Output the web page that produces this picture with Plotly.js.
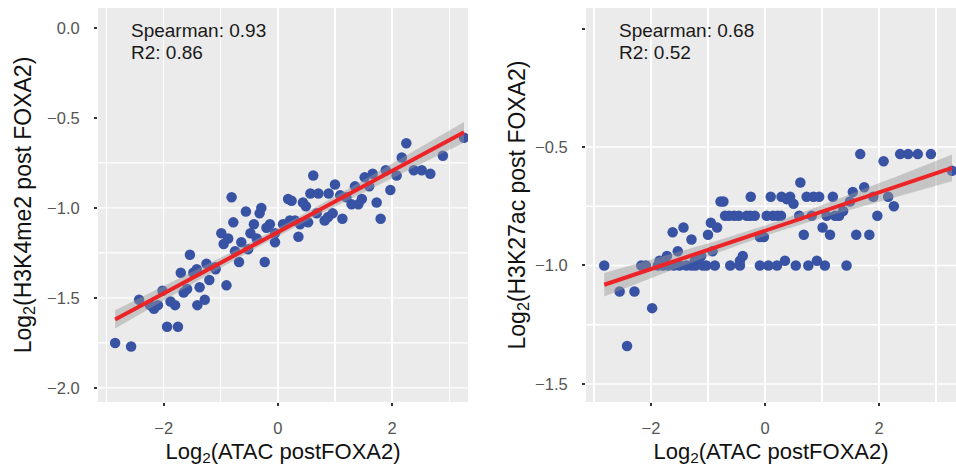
<!DOCTYPE html>
<html>
<head>
<meta charset="utf-8">
<script src="https://cdn.plot.ly/plotly-3.0.1.min.js"></script>
<style>html,body{margin:0;padding:0;background:#fff;}#chart{width:956px;height:472px;}</style>
</head>
<body>
<div id="chart"></div>
<script>
// ---- Data ----
const leftX = [-2.85,-2.57,-2.43,-2.24,-2.17,-2.10,-2.02,-1.94,-1.75,-1.88,
  -1.80,-1.70,-1.65,-1.59,-1.54,-1.48,-1.41,-1.37,-1.28,-1.20,
  -1.42,-1.25,-1.10,-1.09,-0.90,-0.99,-0.87,-0.95,-0.78,-0.75,
  -0.68,-0.64,-0.52,-0.48,-0.42,-0.37,-0.23,-0.20,-0.14,-0.05,
  -0.05,-0.81,-0.56,-0.29,-0.32,0.09,0.21,0.30,0.39,0.36,
  0.53,0.68,0.82,0.88,0.96,1.13,1.80,1.73,0.18,0.24,
  0.44,0.49,0.57,0.71,0.89,1.09,1.20,1.47,1.29,1.41,
  0.62,1.00,1.35,1.60,1.52,1.66,1.97,1.89,2.08,2.17,
  2.25,2.38,2.52,2.67,2.89,3.26];
const leftY = [-1.75,-1.77,-1.51,-1.54,-1.56,-1.54,-1.46,-1.66,-1.66,-1.52,
  -1.54,-1.36,-1.47,-1.45,-1.26,-1.36,-1.54,-1.44,-1.51,-1.40,
  -1.34,-1.31,-1.33,-1.34,-1.43,-1.14,-1.17,-1.20,-1.08,-1.24,
  -1.30,-1.19,-1.23,-1.14,-1.09,-1.17,-1.30,-1.11,-1.09,-1.19,
  -1.14,-0.94,-1.02,-1.00,-1.03,-1.09,-1.07,-1.07,-1.09,-1.16,
  -1.08,-1.03,-1.07,-1.05,-1.03,-1.06,-1.06,-0.97,-0.95,-0.96,
  -0.97,-0.99,-0.92,-0.92,-0.92,-0.93,-0.94,-0.95,-0.98,-0.98,
  -0.82,-0.87,-0.88,-0.88,-0.83,-0.81,-0.90,-0.79,-0.82,-0.72,
  -0.64,-0.79,-0.79,-0.81,-0.71,-0.61];

const rightX = [-2.82,-2.17,-2.09,-1.88,-1.79,-1.70,-1.60,-1.50,-1.38,-1.29,-1.22,-1.09,-1.03,-0.88,-0.61,-0.44,-0.09,0.06,0.21,0.54,0.76,1.05,1.43,
  -1.85,-1.72,-1.53,-1.23,-1.12,-0.92,-0.44,-0.39,0.35,0.91,
  -2.55,-2.29,-1.98,-2.42,
  -1.62,-1.43,-1.29,-1.00,-0.95,-0.84,-0.09,-0.02,0.68,1.01,1.14,1.60,1.83,
  -0.70,-0.63,-0.54,-0.46,-0.32,-0.26,-0.18,0.03,0.14,0.22,0.28,0.60,0.82,1.08,1.23,1.30,1.97,
  1.37,1.49,
  -0.78,-0.73,-0.25,0.10,0.29,0.44,0.38,0.50,0.73,0.85,0.95,1.19,1.90,2.16,2.26,
  0.62,1.54,1.74,1.67,2.37,2.51,2.68,2.91,2.08,3.28];
const rightY = [-1.00,-1.00,-1.00,-1.00,-1.00,-1.00,-1.00,-1.00,-1.00,-1.00,-1.00,-1.00,-1.00,-1.00,-1.00,-1.00,-1.00,-1.00,-1.00,-1.00,-1.00,-1.00,-1.00,
  -0.98,-0.96,-0.94,-0.98,-0.96,-0.94,-0.98,-0.96,-0.98,-0.98,
  -1.11,-1.11,-1.18,-1.34,
  -0.86,-0.84,-0.89,-0.87,-0.82,-0.84,-0.88,-0.88,-0.87,-0.84,-0.87,-0.87,-0.87,
  -0.79,-0.79,-0.79,-0.79,-0.79,-0.79,-0.79,-0.79,-0.79,-0.79,-0.79,-0.79,-0.79,-0.79,-0.79,-0.79,-0.79,
  -0.77,-0.73,
  -0.73,-0.73,-0.71,-0.71,-0.71,-0.71,-0.72,-0.74,-0.71,-0.71,-0.71,-0.71,-0.71,-0.71,-0.75,
  -0.65,-0.69,-0.67,-0.53,-0.53,-0.53,-0.53,-0.53,-0.56,-0.60];

const leftStats = ['Spearman: 0.93', 'R2: 0.86'];
const rightStats = ['Spearman: 0.68', 'R2: 0.52'];
const leftYTicks = [0, -0.5, -1, -1.5, -2];
const leftYTickText = ['0.0', '\u22120.5', '\u22121.0', '\u22121.5', '\u22122.0'];
const rightYTicks = [-0.5, -1, -1.5];
const rightYTickText = ['\u22120.5', '\u22121.0', '\u22121.5'];
const rightYExtraTick = [0];
const xTicks = [-2, 0, 2];
const leftGridY = [-2, -1.75, -1.5, -1.25, -1, -0.75];
const rightGridY = [-1.5, -1.25, -1, -0.75, -0.5];

// ---- Linear fit with 95% confidence band (like geom_smooth(method='lm')) ----
function fit(xs, ys) {
  const n = xs.length;
  const mx = xs.reduce((a,b)=>a+b,0)/n, my = ys.reduce((a,b)=>a+b,0)/n;
  let sxx=0, sxy=0;
  for (let i=0;i<n;i++){ sxx += (xs[i]-mx)**2; sxy += (xs[i]-mx)*(ys[i]-my); }
  const b = sxy/sxx, a = my - b*mx;
  let sse=0; for (let i=0;i<n;i++){ sse += (ys[i]-a-b*xs[i])**2; }
  const s = Math.sqrt(sse/(n-2)), t = 1.99;
  const lo = Math.min(...xs), hi = Math.max(...xs);
  const gx=[], gy=[], up=[], dn=[];
  for (let k=0;k<=80;k++){
    const x = lo + (hi-lo)*k/80;
    const y = a + b*x;
    const se = s*Math.sqrt(1/n + (x-mx)**2/sxx);
    gx.push(x); gy.push(y); up.push(y+t*se); dn.push(y-t*se);
  }
  return {gx, gy, up, dn};
}

const POINT = '#3953A4', RED = '#EC2327', BAND = 'rgba(150,150,150,0.45)';
function panelTraces(xs, ys, xa, ya) {
  const f = fit(xs, ys);
  return [
    {type:'scatter', mode:'markers', x:xs, y:ys, xaxis:xa, yaxis:ya,
     marker:{color:POINT, size:10.5, line:{width:0}}, hoverinfo:'skip'},
    {type:'scatter', mode:'lines', x:f.gx.concat(f.gx.slice().reverse()),
     y:f.up.concat(f.dn.slice().reverse()), xaxis:xa, yaxis:ya,
     fill:'toself', fillcolor:BAND, line:{width:0}, hoverinfo:'skip'},
    {type:'scatter', mode:'lines', x:f.gx, y:f.gy, xaxis:xa, yaxis:ya,
     line:{color:RED, width:4}, hoverinfo:'skip'}
  ];
}

const data = panelTraces(leftX, leftY, 'x', 'y').concat(panelTraces(rightX, rightY, 'x2', 'y2'));

const FONT = '"Liberation Sans", Arial, Helvetica, sans-serif';
const H = 472;
const yDom = [1 - 402/H, 1 - 8/H];
function xAxis(domain, range) {
  return {domain, range, tickmode:'array', tickvals:xTicks, ticks:'outside', ticklen:3, tickwidth:2,
    tickcolor:'#333', tickfont:{size:16.5, color:'#555', family:FONT}, ticklabelstandoff:8,
    showgrid:true, gridcolor:'#FFFFFF', gridwidth:1.3, zeroline:false, showline:false,
    minor:{tick0:1, dtick:2, showgrid:true, gridcolor:'#FFFFFF', gridwidth:1.3, ticks:''},
    automargin:false, fixedrange:true,
    title:{text:'Log<sub>2</sub>(ATAC postFOXA2)', font:{size:22, color:'#111', family:FONT}, standoff:7}};
}
function yAxis(domain, range, tv, tt, title, anchor, standoff, extra) {
  const ax = {domain, range, anchor, tickmode:'array', tickvals:tv, ticktext:tt, ticks:'outside', ticklen:3, tickwidth:2,
    tickcolor:'#333', tickfont:{size:16.5, color:'#555', family:FONT}, ticklabelstandoff:11,
    showgrid:false, zeroline:false, showline:false, automargin:false, fixedrange:true,
    title:{text:title, font:{size:23, color:'#111', family:FONT}, standoff:standoff}};
  if (extra) ax.minor = {tickmode:'array', tickvals:extra, ticks:'outside', ticklen:3, tickwidth:2, tickcolor:'#333', showgrid:false};
  return ax;
}

const shapes = [];
leftGridY.forEach(v => shapes.push({type:'line', xref:'x domain', yref:'y', x0:0, x1:1, y0:v, y1:v,
  line:{color:'#FFFFFF', width:1.3}, layer:'below'}));
rightGridY.forEach(v => shapes.push({type:'line', xref:'x2 domain', yref:'y2', x0:0, x1:1, y0:v, y1:v,
  line:{color:'#FFFFFF', width:1.3}, layer:'below'}));

const annotations = [];
[[leftStats,'x domain','y domain'],[rightStats,'x2 domain','y2 domain']].forEach(([st,xr,yr]) => {
  st.forEach((txt,i) => annotations.push({text:txt, xref:xr, yref:yr, x:0.085, y:0.942 - i*0.056,
    xanchor:'left', yanchor:'middle', showarrow:false, font:{size:19, color:'#1a1a1a', family:FONT}}));
});

const layout = {
  width:956, height:472, margin:{l:0, r:0, t:0, b:0},
  paper_bgcolor:'#FFFFFF', plot_bgcolor:'#EBEBEB', showlegend:false,
  font:{family:FONT},
  xaxis: Object.assign(xAxis([98/956, 468/956], [-3.15, 3.33]), {anchor:'y'}),
  yaxis: yAxis(yDom, [-2.078, 0.111], leftYTicks, leftYTickText, 'Log<sub>2</sub>(H3K4me2 post FOXA2)', 'x', 9),
  xaxis2: Object.assign(xAxis([586/956, 1], [-3.14, 3.35]), {anchor:'y2'}),
  yaxis2: yAxis(yDom, [-1.576, 0.0865], rightYTicks, rightYTickText, 'Log<sub>2</sub>(H3K27ac post FOXA2)', 'x2', 3, rightYExtraTick),
  shapes, annotations
};

Plotly.newPlot('chart', data, layout, {staticPlot:true, displayModeBar:false});
</script>
</body>
</html>
